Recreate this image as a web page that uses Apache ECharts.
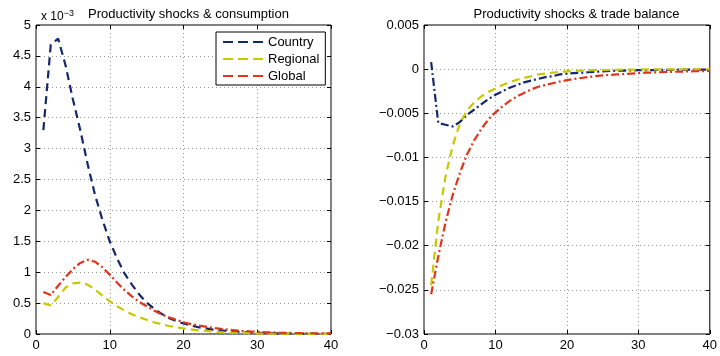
<!DOCTYPE html>
<html>
<head>
<meta charset="utf-8">
<script src="https://cdn.jsdelivr.net/npm/echarts@6/dist/echarts.min.js"></script>
<style>
  html, body { margin: 0; padding: 0; background: #fff; }
  #graphics { width: 720px; height: 356px; }
</style>
</head>
<body>
<div id="graphics"></div>
<script>
// periods 1..40
const periods = Array.from({ length: 40 }, (_, i) => i + 1);

// consumption response, in units of 10^-3
const consCountry = [3.3, 4.68, 4.78, 4.35, 3.8, 3.3, 2.75, 2.25, 1.85, 1.5,
  1.22, 0.98, 0.8, 0.64, 0.51, 0.41, 0.33, 0.26, 0.21, 0.17,
  0.14, 0.11, 0.09, 0.07, 0.06, 0.05, 0.04, 0.03, 0.025, 0.02,
  0.016, 0.013, 0.01, 0.008, 0.007, 0.006, 0.005, 0.004, 0.003, 0.003];
const consRegional = [0.5, 0.46, 0.6, 0.75, 0.82, 0.83, 0.8, 0.72, 0.62, 0.53,
  0.45, 0.38, 0.32, 0.27, 0.23, 0.19, 0.16, 0.13, 0.11, 0.09,
  0.075, 0.06, 0.05, 0.04, 0.03, 0.025, 0.02, 0.016, 0.013, 0.01,
  0.008, 0.007, 0.006, 0.005, 0.004, 0.003, 0.003, 0.002, 0.002, 0.002];
const consGlobal = [0.68, 0.63, 0.78, 0.92, 1.05, 1.15, 1.2, 1.17, 1.08, 0.96,
  0.83, 0.71, 0.61, 0.52, 0.45, 0.38, 0.32, 0.27, 0.23, 0.19,
  0.16, 0.14, 0.12, 0.1, 0.085, 0.07, 0.06, 0.05, 0.042, 0.035,
  0.03, 0.026, 0.022, 0.019, 0.016, 0.014, 0.012, 0.011, 0.01, 0.009];

// trade balance response
const tbCountry = [0.0008, -0.0061, -0.0063, -0.0065, -0.006, -0.0052, -0.0046, -0.004, -0.0034, -0.0029,
  -0.0025, -0.0021, -0.0018, -0.0015, -0.0013, -0.0011, -0.0009, -0.0008, -0.0006, -0.0005,
  -0.00045, -0.0004, -0.00035, -0.0003, -0.00025, -0.0002, -0.00018, -0.00016, -0.00014, -0.00012,
  -0.0001, -0.0001, -0.00009, -0.00008, -0.00007, -0.00006, -0.00006, -0.00005, -0.00005, -0.00005];
const tbRegional = [-0.0245, -0.0172, -0.0122, -0.0087, -0.0062, -0.0047, -0.0038, -0.0031, -0.0026, -0.0022,
  -0.0018, -0.0015, -0.0012, -0.001, -0.0008, -0.0006, -0.0005, -0.0004, -0.0003, -0.00025,
  -0.0002, -0.00017, -0.00014, -0.00012, -0.0001, -0.00008, -0.00007, -0.00006, -0.00005, -0.00004,
  -0.00003, -0.00003, -0.00002, -0.00002, -0.00002, -0.00001, -0.00001, -0.00001, -0.00001, -0.00001];
const tbGlobal = [-0.0255, -0.0212, -0.0174, -0.0143, -0.0118, -0.0097, -0.0081, -0.0068, -0.0057, -0.0049,
  -0.0042, -0.0036, -0.0031, -0.0027, -0.0023, -0.002, -0.0018, -0.0016, -0.0014, -0.00125,
  -0.0011, -0.001, -0.0009, -0.0008, -0.0007, -0.00065, -0.0006, -0.00055, -0.0005, -0.00045,
  -0.0004, -0.00038, -0.00035, -0.00032, -0.0003, -0.00028, -0.00026, -0.00024, -0.00022, -0.0002];

const seriesNames = ['Country', 'Regional', 'Global'];
const colors = ['#14286e', '#c8c800', '#e2341a'];

const FONT = 'Liberation Sans, Arial, sans-serif';

function pairs(arr) {
  return arr.map((v, i) => [periods[i], v]);
}

function fmtMinus(v) {
  return String(v).replace('-', '\u2212');
}

var myChart = echarts.init(document.getElementById('graphics'));

const grids = [
  { left: 36, top: 25, width: 295, height: 309, show: true, borderColor: '#000', borderWidth: 1 },
  { left: 424, top: 25, width: 295, height: 309, show: true, borderColor: '#000', borderWidth: 1 }
];

const tick = { inside: true, length: 4, lineStyle: { color: '#000' } };
const gridLine = { show: true, lineStyle: { color: '#999', type: [1, 3] } };
const label = { color: '#000', fontSize: 13, fontFamily: FONT, margin: 5 };

function xAxes(gi) {
  return [
    {
      type: 'value', gridIndex: gi, min: 0, max: 40, interval: 10, position: 'bottom',
      axisLine: { show: false, onZero: false },
      axisTick: tick, axisLabel: label, splitLine: gridLine
    },
    {
      type: 'value', gridIndex: gi, min: 0, max: 40, interval: 10, position: 'top',
      axisLine: { show: false, onZero: false },
      axisTick: tick, axisLabel: { show: false }, splitLine: { show: false }
    }
  ];
}

function yAxes(gi, min, max, interval, formatter) {
  return [
    {
      type: 'value', gridIndex: gi, min: min, max: max, interval: interval, position: 'left',
      axisLine: { show: false, onZero: false },
      axisTick: tick, axisLabel: Object.assign({ formatter: formatter }, label), splitLine: gridLine
    },
    {
      type: 'value', gridIndex: gi, min: min, max: max, interval: interval, position: 'right',
      axisLine: { show: false, onZero: false },
      axisTick: tick, axisLabel: { show: false }, splitLine: { show: false }
    }
  ];
}

function line(name, data, xi, yi, color, dash) {
  return {
    name: name, type: 'line', xAxisIndex: xi, yAxisIndex: yi,
    data: pairs(data), symbol: 'none', smooth: false,
    lineStyle: { color: color, width: 2.2, type: dash },
    itemStyle: { color: color },
    z: 3
  };
}

const DASH = [8, 5];
const DASHDOT = [8, 3, 2, 3];
const titleStyle = { fontSize: 13, fontWeight: 'normal', color: '#000', fontFamily: FONT };

var option = {
  animation: false,
  backgroundColor: '#fff',
  textStyle: { fontFamily: FONT },
  title: [
    { text: 'Productivity shocks & consumption', left: 183.5, textAlign: 'center', top: 3, textStyle: titleStyle },
    { text: 'Productivity shocks & trade balance', left: 571.5, textAlign: 'center', top: 3, textStyle: titleStyle },
    { text: 'x 10{sup|\u22123}', left: 36, top: 4,
      textStyle: Object.assign({}, titleStyle, { fontSize: 12,
        rich: { sup: { fontSize: 9, verticalAlign: 'top', padding: [0, 0, 7, 0], color: '#000', fontFamily: FONT } } }) }
  ],
  legend: {
    data: seriesNames,
    orient: 'vertical',
    left: 216, top: 32,
    padding: [3, 6, 2, 7],
    itemGap: 3,
    itemWidth: 40,
    itemHeight: 2,
    icon: 'path://M0,0H10V2H0Z M15,0H25V2H15Z M30,0H40V2H30Z',
    backgroundColor: '#fff',
    borderColor: '#000',
    borderWidth: 1,
    borderRadius: 0,
    textStyle: { fontSize: 13, color: '#000', fontFamily: FONT, lineHeight: 14 }
  },
  grid: grids,
  xAxis: [...xAxes(0), ...xAxes(1)],
  yAxis: [
    ...yAxes(0, 0, 5, 0.5, v => String(v)),
    ...yAxes(1, -0.03, 0.005, 0.005, v => fmtMinus(Number(v.toFixed(3))))
  ],
  series: [
    line('Country', consCountry, 0, 0, colors[0], DASH),
    line('Regional', consRegional, 0, 0, colors[1], DASH),
    line('Global', consGlobal, 0, 0, colors[2], DASHDOT),
    line('Country', tbCountry, 2, 2, colors[0], DASHDOT),
    line('Regional', tbRegional, 2, 2, colors[1], DASH),
    line('Global', tbGlobal, 2, 2, colors[2], DASHDOT)
  ]
};

myChart.setOption(option);
</script>
</body>
</html>
